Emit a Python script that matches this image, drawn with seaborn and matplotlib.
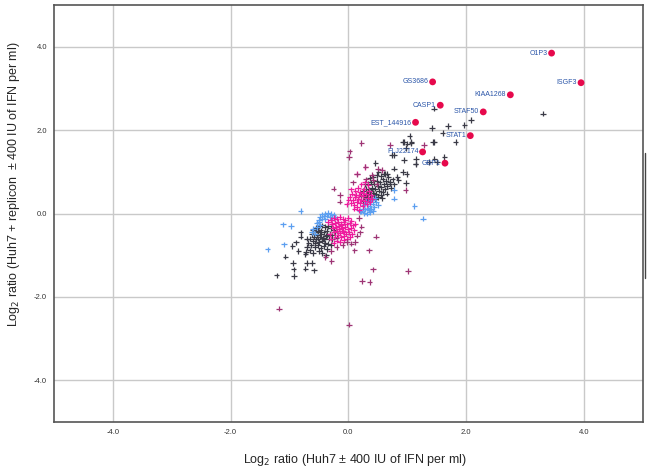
import matplotlib.pyplot as plt
from matplotlib.lines import Line2D
from matplotlib.ticker import MultipleLocator, FormatStrFormatter
import pandas as pd
import seaborn as sns


# log2 ratios: (Huh7 +/- IFN, Huh7 + replicon +/- IFN)
DARK = [
    (-0.60, -0.40), (-0.55, -0.35), (-0.50, -0.30), (-0.45, -0.28), (-0.40, -0.32),
    (-0.35, -0.30), (-0.30, -0.35), (-0.25, -0.40), (-0.62, -0.50), (-0.57, -0.45),
    (-0.52, -0.42), (-0.47, -0.40), (-0.42, -0.45), (-0.37, -0.42), (-0.32, -0.48),
    (-0.27, -0.52), (-0.22, -0.45), (-0.65, -0.60), (-0.58, -0.55), (-0.53, -0.52),
    (-0.48, -0.55), (-0.43, -0.58), (-0.38, -0.54), (-0.33, -0.60), (-0.28, -0.62),
    (-0.20, -0.58), (-0.68, -0.70), (-0.60, -0.66), (-0.55, -0.62), (-0.50, -0.68),
    (-0.45, -0.65), (-0.40, -0.70), (-0.35, -0.72), (-0.30, -0.75), (-0.70, -0.80),
    (-0.63, -0.76), (-0.57, -0.80), (-0.52, -0.75), (-0.47, -0.82), (-0.42, -0.78),
    (-0.36, -0.85), (-0.72, -0.92), (-0.65, -0.88), (-0.60, -0.95), (-0.50, -0.90),
    (-0.44, -0.95), (-0.38, -1.00), (-0.46, -0.50), (-0.41, -0.62), (-0.51, -0.60),
    (-0.36, -0.52), (-0.56, -0.70), (-0.49, -0.45), (-0.81, -0.55), (-0.89, -0.69),
    (-0.95, -0.78), (-0.85, -0.90), (-0.73, -0.98), (-1.07, -1.03), (-0.94, -1.18),
    (-0.93, -1.34), (-0.92, -1.50), (-1.22, -1.48), (-0.73, -1.32), (-0.58, -1.36),
    (-0.71, -1.18), (-0.62, -1.18), (-0.81, -0.45), (-0.71, -0.60),
    (0.25, 0.30), (0.30, 0.35), (0.35, 0.32), (0.40, 0.38), (0.45, 0.35),
    (0.50, 0.40), (0.55, 0.45), (0.22, 0.42), (0.27, 0.45), (0.32, 0.48),
    (0.37, 0.44), (0.42, 0.50), (0.47, 0.48), (0.52, 0.55), (0.58, 0.52),
    (0.62, 0.58), (0.25, 0.55), (0.30, 0.60), (0.35, 0.58), (0.40, 0.62),
    (0.45, 0.60), (0.50, 0.66), (0.55, 0.63), (0.60, 0.70), (0.66, 0.66),
    (0.28, 0.70), (0.33, 0.72), (0.38, 0.75), (0.43, 0.72), (0.48, 0.78),
    (0.53, 0.75), (0.58, 0.82), (0.64, 0.78), (0.70, 0.72), (0.36, 0.85),
    (0.42, 0.88), (0.48, 0.92), (0.55, 0.90), (0.62, 0.95), (0.68, 0.88),
    (0.75, 0.82), (0.72, 0.62), (0.78, 0.70), (0.34, 0.52), (0.39, 0.55),
    (0.44, 0.45), (0.31, 0.40), (0.57, 0.38), (0.65, 0.48),
    (0.92, 1.72), (1.00, 1.68), (1.07, 1.70), (1.25, 1.49), (1.46, 1.72),
    (1.50, 1.24), (1.37, 1.24), (1.14, 1.20), (1.45, 2.52), (3.30, 2.40),
    (2.08, 2.24), (1.97, 2.12), (1.69, 2.10), (1.42, 2.06), (1.60, 1.94),
    (1.82, 1.72), (1.44, 1.72), (1.04, 1.86), (0.94, 1.72), (1.07, 1.72),
    (0.98, 1.58), (1.15, 1.32), (0.94, 1.28), (0.77, 1.40), (0.74, 1.40),
    (0.46, 1.22), (1.46, 1.32), (1.63, 1.36), (1.14, 1.19), (0.93, 1.00),
    (0.99, 0.95), (0.77, 1.08), (0.60, 0.96), (0.98, 0.74), (0.85, 0.80),
    (0.51, 1.00), (0.66, 0.96), (0.83, 0.88), (0.71, 0.76),
]
BLUE = [
    (-0.45, -0.02), (-0.40, 0.00), (-0.35, 0.02), (-0.30, 0.00), (-0.25, -0.03),
    (-0.22, -0.08), (-0.48, -0.08), (-0.42, -0.06), (-0.37, -0.05), (-0.32, -0.08),
    (-0.27, -0.10), (-0.50, -0.15), (-0.45, -0.12), (-0.40, -0.14), (-0.53, -0.22),
    (-0.48, -0.28), (-0.53, -0.32), (-0.50, -0.20), (-0.62, -0.44), (-0.56, -0.48),
    (-0.60, -0.36), (-0.81, 0.06), (-1.11, -0.26), (-0.97, -0.30), (-1.37, -0.86),
    (-1.09, -0.74),
    (0.22, 0.05), (0.27, 0.02), (0.32, 0.00), (0.37, 0.03), (0.42, 0.06),
    (0.24, 0.12), (0.29, 0.10), (0.34, 0.14), (0.39, 0.11), (0.44, 0.15),
    (0.26, 0.20), (0.31, 0.22), (0.36, 0.19), (0.41, 0.24), (0.47, 0.28),
    (0.30, 0.30), (0.38, 0.32), (0.45, 0.38), (0.20, 0.06), (0.35, 0.08),
    (0.50, 0.20), (0.77, 0.56), (0.77, 0.36), (1.12, 0.18), (1.27, -0.12),
]
PINK = [
    (-0.30, -0.15), (-0.25, -0.10), (-0.20, -0.12), (-0.15, -0.08), (-0.10, -0.12),
    (-0.05, -0.15), (0.00, -0.10), (0.05, -0.18), (-0.28, -0.25), (-0.23, -0.22),
    (-0.18, -0.20), (-0.13, -0.24), (-0.08, -0.20), (-0.03, -0.26), (0.02, -0.22),
    (0.08, -0.28), (-0.26, -0.35), (-0.21, -0.32), (-0.16, -0.30), (-0.11, -0.35),
    (-0.06, -0.32), (-0.01, -0.38), (0.04, -0.34), (0.10, -0.40), (-0.24, -0.45),
    (-0.19, -0.42), (-0.14, -0.46), (-0.09, -0.42), (-0.04, -0.48), (0.01, -0.45),
    (0.06, -0.50), (-0.22, -0.55), (-0.17, -0.52), (-0.12, -0.57), (-0.07, -0.54),
    (-0.02, -0.60), (0.03, -0.56), (-0.20, -0.65), (-0.14, -0.68), (-0.08, -0.64),
    (-0.30, -0.60), (-0.25, -0.70), (-0.32, -0.50), (-0.16, -0.38), (-0.12, -0.28),
    (-0.08, -0.45), (0.12, -0.25), (-0.35, -0.20),
    (0.05, 0.25), (0.08, 0.32), (0.10, 0.20), (0.12, 0.40), (0.14, 0.28),
    (0.15, 0.15), (0.17, 0.35), (0.18, 0.45), (0.20, 0.25), (0.20, 0.52),
    (0.22, 0.33), (0.24, 0.18), (0.25, 0.42), (0.26, 0.60), (0.28, 0.30),
    (0.30, 0.48), (0.31, 0.22), (0.33, 0.38), (0.35, 0.55), (0.36, 0.28),
    (0.38, 0.45), (0.40, 0.35), (0.02, 0.40), (0.06, 0.48), (0.12, 0.55),
    (0.16, 0.62), (0.22, 0.70), (0.28, 0.75), (0.34, 0.68), (0.00, 0.33),
    (-0.03, 0.22), (0.04, 0.58), (0.10, 0.12), (0.18, 0.08), (0.24, 0.50),
    (0.13, 0.45), (0.15, 0.96), (0.29, 1.12),
]
PURPLE = [
    (0.22, 1.70), (0.02, 1.49), (0.01, 1.36), (0.71, 1.64), (1.28, 1.64),
    (0.29, 1.13), (0.15, 0.94), (0.57, 1.04), (0.97, 0.56), (-0.25, 0.60),
    (-0.14, 0.44), (-0.15, 0.29), (0.08, 0.75), (0.30, 0.82), (0.40, 0.92),
    (0.50, 1.08), (0.42, 0.80), (0.48, 0.70),
    (0.10, -0.88), (0.11, -0.68), (0.15, -0.53), (0.22, -0.31), (0.35, -0.88),
    (0.47, -0.55), (-0.29, -1.14), (-0.39, -1.04), (0.42, -1.34), (0.23, -1.61),
    (0.36, -1.64), (1.01, -1.37), (-1.18, -2.28), (0.01, -2.66), (-0.02, -0.68),
    (0.20, -0.45), (-0.20, -0.80), (-0.10, -0.75), (0.05, -0.72), (0.18, -0.10),
    (-0.30, -0.90),
]

GENES = ["O1P3", "ISGF3", "GS3686", "KIAA1268", "CASP1", "STAF50",
         "EST_144916", "STAT1", "FLJ22174", "GBP1"]
GENE_X = [3.45, 3.95, 1.43, 2.75, 1.56, 2.29, 1.14, 2.07, 1.26, 1.64]
GENE_Y = [3.85, 3.14, 3.16, 2.85, 2.60, 2.44, 2.19, 1.87, 1.48, 1.21]

PALETTE = {"dark": "#3a3a46", "blue": "#5c9ff0", "pink": "#ee1c9e", "purple": "#9e3575"}


def build_points():
    groups = [("dark", DARK), ("blue", BLUE), ("pink", PINK), ("purple", PURPLE)]
    frames = [pd.DataFrame(pts, columns=["x", "y"]).assign(group=name) for name, pts in groups]
    return pd.concat(frames, ignore_index=True)


def main():
    sns.set_theme(style="white")
    plt.rcParams["font.family"] = ["Liberation Sans", "DejaVu Sans"]

    points = build_points()
    genes = pd.DataFrame({"gene": GENES, "x": GENE_X, "y": GENE_Y})

    fig = plt.figure(figsize=(6.5, 4.7), dpi=100)
    ax = fig.add_axes([0.083, 0.102, 0.906, 0.887])

    sns.scatterplot(data=points, x="x", y="y", hue="group", palette=PALETTE,
                    marker="+", s=16, linewidth=0.9, legend=False, ax=ax, zorder=3)
    sns.scatterplot(data=genes, x="x", y="y", color="#e6094c", s=24,
                    edgecolor="none", ax=ax, zorder=4)
    for _, row in genes.iterrows():
        ax.annotate(row["gene"], (row["x"], row["y"]), xytext=(-3, 0),
                    textcoords="offset points", ha="right", va="center",
                    fontsize=5, color="#2a55a8", zorder=5)

    ax.set_xlim(-5, 5)
    ax.set_ylim(-5, 5)
    for axis in (ax.xaxis, ax.yaxis):
        axis.set_major_locator(MultipleLocator(2))
        axis.set_minor_locator(MultipleLocator(1))
        axis.set_major_formatter(FormatStrFormatter("%.1f"))
    ax.grid(True, which="major", color="#c9c9c9", linewidth=1.0, zorder=0)
    ax.tick_params(which="major", direction="in", length=0, labelsize=5.5,
                   colors="#333333", pad=5)
    ax.tick_params(which="minor", direction="in", length=3, width=0.8, color="#555555")
    for spine in ax.spines.values():
        spine.set_color("#555555")
        spine.set_linewidth(1.2)

    ax.set_xlabel("Log$_2$ ratio (Huh7 ± 400 IU of IFN per ml)", fontsize=9)
    ax.set_ylabel("Log$_2$ ratio (Huh7 + replicon  ± 400 IU of IFN per ml)", fontsize=9)
    ax.xaxis.set_label_coords(0.512, -0.072)
    ax.yaxis.set_label_coords(-0.054, 0.57)

    # stray scan line at the right margin of the original figure
    fig.add_artist(Line2D([0.9925, 0.9925], [1 - 153 / 470, 1 - 278 / 470],
                          color="#444444", linewidth=1.0))

    fig.savefig("out.png", dpi=100)
    plt.close(fig)


if __name__ == "__main__":
    main()
